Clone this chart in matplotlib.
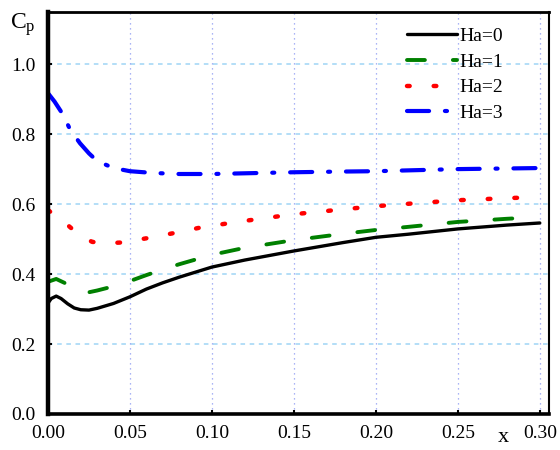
import numpy as np
import matplotlib
matplotlib.use("Agg")
import matplotlib.pyplot as plt
import matplotlib.ticker as mticker

# ================== data ==================
x_ha0 = [0, 0.002, 0.005, 0.008, 0.012, 0.016, 0.02, 0.025, 0.03, 0.04, 0.05,
         0.06, 0.07, 0.08, 0.10, 0.12, 0.15, 0.18, 0.20, 0.22, 0.25, 0.28, 0.30]
cp_ha0 = [0.317, 0.33, 0.337, 0.33, 0.315, 0.303, 0.298, 0.297, 0.302, 0.316, 0.335,
          0.357, 0.375, 0.391, 0.42, 0.44, 0.466, 0.49, 0.505, 0.514, 0.529, 0.54, 0.546]

x_ha1 = [0, 0.005, 0.01, 0.015, 0.02, 0.025, 0.03, 0.04, 0.05, 0.06, 0.07,
         0.08, 0.10, 0.12, 0.15, 0.18, 0.20, 0.22, 0.25, 0.28, 0.30]
cp_ha1 = [0.378, 0.386, 0.375, 0.355, 0.347, 0.348, 0.353, 0.365, 0.38, 0.397, 0.413,
          0.428, 0.455, 0.475, 0.497, 0.515, 0.526, 0.535, 0.549, 0.558, 0.563]

x_ha2 = [0, 0.005, 0.012, 0.02, 0.027, 0.035, 0.044, 0.05, 0.061, 0.08,
         0.094, 0.12, 0.15, 0.18, 0.20, 0.22, 0.25, 0.28, 0.30]
cp_ha2 = [0.583, 0.565, 0.54, 0.508, 0.492, 0.488, 0.49, 0.494, 0.503, 0.52,
          0.534, 0.552, 0.571, 0.585, 0.594, 0.601, 0.611, 0.617, 0.62]

x_ha3 = [0, 0.004, 0.009, 0.0134, 0.0195, 0.025, 0.03, 0.04, 0.05, 0.064,
         0.08, 0.10, 0.12, 0.15, 0.18, 0.20, 0.25, 0.30]
cp_ha3 = [0.917, 0.893, 0.857, 0.814, 0.774, 0.745, 0.723, 0.703, 0.694, 0.689,
          0.686, 0.686, 0.688, 0.691, 0.693, 0.694, 0.70, 0.703]

labels = ["Ha=0", "Ha=1", "Ha=2", "Ha=3"]
x_ticks = [0.00, 0.05, 0.10, 0.15, 0.20, 0.25, 0.30]
y_ticks = [0.0, 0.2, 0.4, 0.6, 0.8, 1.0]
# ==========================================

plt.rcParams["font.family"] = ["Liberation Serif", "DejaVu Serif"]
plt.rcParams["mathtext.default"] = "regular"

fig = plt.figure(figsize=(5.6, 4.5), dpi=100)
ax = fig.add_axes([0.0857, 0.08, 0.8943, 0.8933])

# grid
for yv in y_ticks[1:]:
    ax.axhline(yv, color="#9fd5f5", lw=1.1, ls=(0, (3, 3)), zorder=0)
for xv in x_ticks[1:]:
    ax.axvline(xv, color="#8f9cf2", lw=0.9, ls=(0, (1, 3)), zorder=0)

# curves
ax.plot(x_ha0, cp_ha0, color="black", lw=2.4, label=labels[0],
        solid_capstyle="round")
ax.plot(x_ha1, cp_ha1, color="#008000", lw=2.8, dashes=(4.6, 7.2),
        dash_capstyle="round", label=labels[1])
ax.plot(x_ha2, cp_ha2, color="red", lw=3.2, dashes=(0.6, 5.4),
        dash_capstyle="round", label=labels[2])
ax.plot(x_ha3, cp_ha3, color="blue", lw=3.0, dashes=(5.3, 3.8, 0.5, 3.8),
        dash_capstyle="round", label=labels[3])

ax.set_xlim(0, 0.3055)
ax.set_ylim(0, 1.149)
ax.xaxis.set_major_locator(mticker.FixedLocator(x_ticks))
ax.yaxis.set_major_locator(mticker.FixedLocator(y_ticks))
ax.xaxis.set_major_formatter(mticker.FormatStrFormatter("%.2f"))
ax.yaxis.set_major_formatter(mticker.FormatStrFormatter("%.1f"))
ax.tick_params(axis="both", direction="in", length=3, width=1.5,
               labelsize=14, colors="black")
ax.tick_params(axis="x", pad=8)
ax.tick_params(axis="y", pad=9)

# spines
ax.spines["left"].set_linewidth(3.2)
ax.spines["bottom"].set_linewidth(2.6)
ax.spines["top"].set_linewidth(2.0)
ax.spines["right"].set_linewidth(1.5)

# axis labels
fig.text(10 / 560, 1 - 29 / 450, "C$_{p}$", fontsize=17, ha="left", va="baseline")
fig.text(503 / 560, 1 - 437 / 450, "x", fontsize=16, ha="center", va="center")

leg = ax.legend(loc="upper left", bbox_to_anchor=(0.716, 0.962), frameon=False,
                fontsize=14, handlelength=2.6, handletextpad=0.1,
                labelspacing=0.42, borderpad=0, borderaxespad=0)

fig.savefig("out.png", dpi=100)
